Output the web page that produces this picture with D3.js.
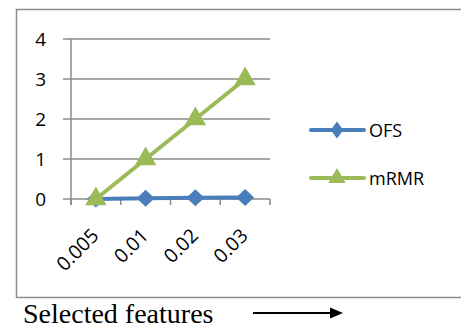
<!DOCTYPE html>
<html><head><meta charset="utf-8">
<script src="https://cdn.jsdelivr.net/npm/d3@7"></script>
<style>body{margin:0;background:#fff}svg{display:block}</style>
</head><body>
<script>
const categories = ["0.005","0.01","0.02","0.03"];
const ofsValues = [0, 0.02, 0.03, 0.04];
const mrmrValues = [0, 1, 2, 3];
const yTicks = [0,1,2,3,4];
const seriesNames = ["OFS","mRMR"];

const W=461,H=329;
const svg=d3.select("body").append("svg").attr("width",W).attr("height",H);
// outer frame
svg.append("rect").attr("x",16.5).attr("y",9.5).attr("width",470).attr("height",288)
  .attr("fill","none").attr("stroke","#8c8c8c").attr("stroke-width",1.5);

const x=d3.scaleBand().domain(categories).range([71,270]).padding(0);
const y=d3.scaleLinear().domain([0,4]).range([199,39]);
const grid="#8a8a8a";
// gridlines
svg.append("g").selectAll("line").data(yTicks).join("line")
  .attr("x1",63).attr("x2",270).attr("y1",d=>y(d)).attr("y2",d=>y(d))
  .attr("stroke",grid).attr("stroke-width",1.5);
// y axis
svg.append("line").attr("x1",71).attr("x2",71).attr("y1",39).attr("y2",205).attr("stroke",grid).attr("stroke-width",1.5);
// x ticks
const xt=[...categories.map(c=>x(c)),270];
svg.append("g").selectAll("line").data(xt).join("line")
  .attr("x1",d=>d).attr("x2",d=>d).attr("y1",199).attr("y2",205).attr("stroke",grid).attr("stroke-width",1.5);
// y labels
svg.append("g").selectAll("text").data(yTicks).join("text")
  .attr("x",46).attr("y",d=>y(d)+7).attr("text-anchor","end")
  .attr("font-family","'Open Sans',sans-serif").attr("font-size",19).attr("fill","#000").text(d=>d);
// x labels
svg.append("g").selectAll("text").data(categories).join("text")
  .attr("transform",d=>`translate(${x(d)+x.bandwidth()/2-1},${232}) rotate(-45)`)
  .attr("text-anchor","end").attr("dy","0.36em")
  .attr("font-family","'Open Sans',sans-serif").attr("font-size",19.5).attr("fill","#000").text(d=>d);

const cx=d=>x(d)+x.bandwidth()/2;
const blue="#4a7ebb", green="#9bbb59";
const line=d3.line().x((d,i)=>cx(categories[i])).y(d=>y(d));
svg.append("path").datum(ofsValues).attr("d",line).attr("fill","none").attr("stroke",blue).attr("stroke-width",4).attr("stroke-linecap","round");
const sq=d3.symbol().type(d3.symbolSquare).size(144);
svg.append("g").selectAll("path").data(ofsValues).join("path")
  .attr("transform",(d,i)=>`translate(${cx(categories[i])},${y(d)}) scale(1.06,1) rotate(45)`).attr("d",sq).attr("fill",blue);
svg.append("path").datum(mrmrValues).attr("d",line).attr("fill","none").attr("stroke",green).attr("stroke-width",4).attr("stroke-linecap","round");
const tri=d3.symbol().type(d3.symbolTriangle).size(200);
svg.append("g").selectAll("path").data(mrmrValues).join("path")
  .attr("transform",(d,i)=>`translate(${cx(categories[i])},${y(d)})`).attr("d",tri).attr("fill",green);

// legend
const leg=svg.append("g");
const ly=[130,178], colors=[blue,green];
const sqL=d3.symbol().type(d3.symbolSquare).size(110);
const triL=d3.symbol().type(d3.symbolTriangle).size(130);
seriesNames.forEach((n,i)=>{
  leg.append("line").attr("x1",311).attr("x2",364).attr("y1",ly[i]).attr("y2",ly[i]).attr("stroke",colors[i]).attr("stroke-width",4).attr("stroke-linecap","round");
  leg.append("path").attr("transform",`translate(337,${ly[i]})`+(i==0?" scale(0.85,1.15) rotate(45)":"")).attr("d",i==0?sqL:triL).attr("fill",colors[i]);
  leg.append("text").attr("x",369).attr("y",ly[i]+7).attr("font-family","'Open Sans',sans-serif").attr("font-size",18).attr("fill","#000").text(n);
});

// x title and arrow
svg.append("text").attr("x",23).attr("y",323).attr("font-family","'Liberation Serif','Times New Roman',serif").attr("font-size",28).attr("fill","#000").text("Selected features");
svg.append("line").attr("x1",253).attr("x2",333).attr("y1",313).attr("y2",313).attr("stroke","#000").attr("stroke-width",2);
svg.append("path").attr("d","M343,313 L330,307.5 L330,318.5 Z").attr("fill","#000");
</script>
</body></html>
